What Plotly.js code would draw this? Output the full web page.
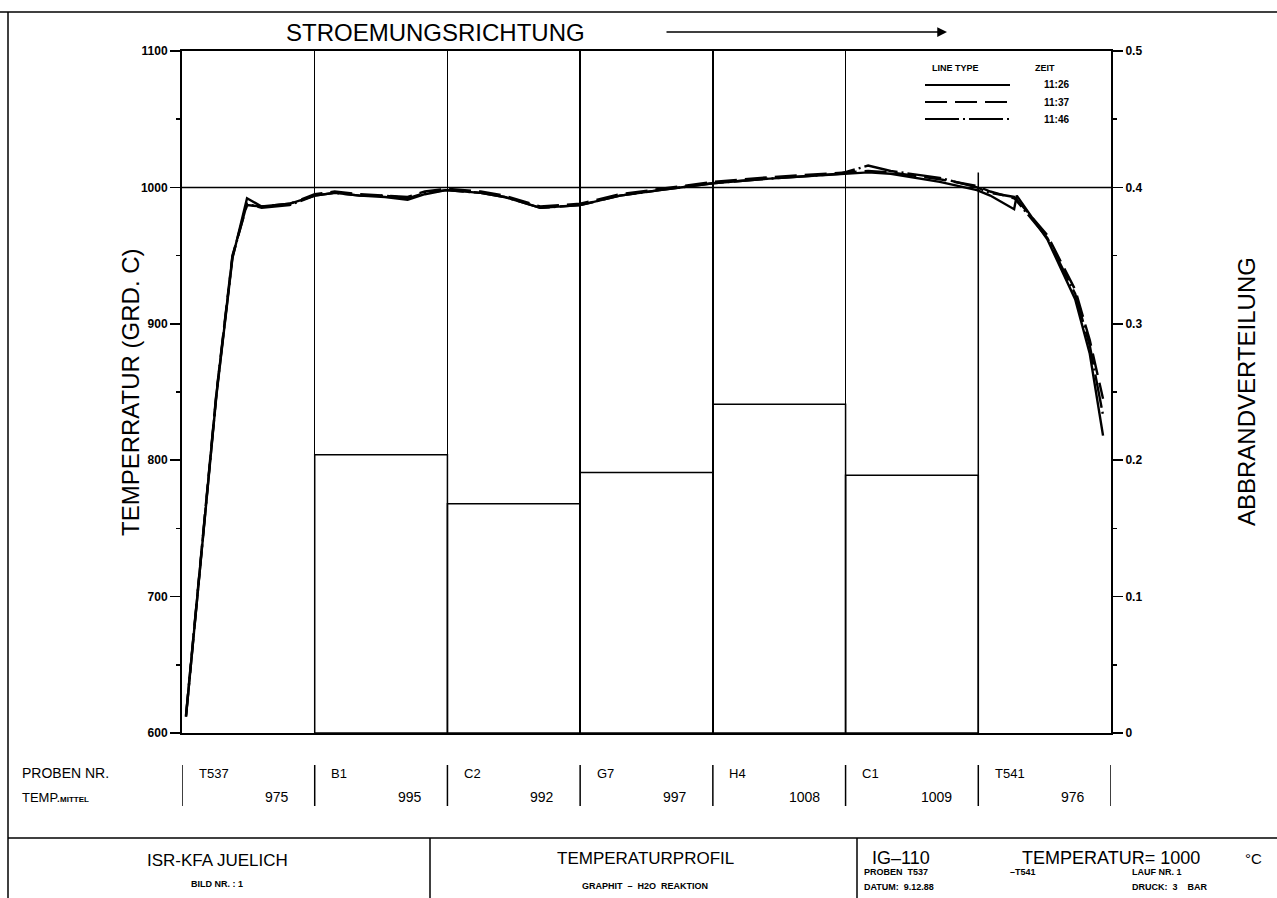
<!DOCTYPE html>
<html><head><meta charset="utf-8">
<script src="https://cdn.plot.ly/plotly-3.0.1.min.js"></script>
<style>body{margin:0;background:#fff}#chart{width:1277px;height:898px}</style>
</head><body><div id="chart"></div>
<script>
// ---- data ----
const positions = [0.03,0.26,0.38,0.49,0.60,0.81,1.0,1.15,1.34,1.53,1.70,1.83,1.99,2.25,2.43,2.70,3.0,3.3,3.6,4.0,4.36,4.66,4.96,5.17,5.34,5.71,5.99,6.09,6.27,6.29,6.52,6.73,6.84,6.94];
const temp1126 = [612,848,948,992,986,988,994,996,994,993,991,995,998,996,993,985,987,994,998,1003,1006,1008,1010,1011,1010,1004,998,994,984,994,962,918,878,818];
const temp1137 = [613,850,950,987,986,988,995,997,995,994,993,997,999,997,994,986,988,995,999,1004,1007,1009,1011,1012,1011,1006,1001,997,992,991,965,925,888,845];
const temp1146 = [612,849,949,988,985,987,994,996,994,994,992,996,998,996,993,985,987,994,998,1003,1006,1008,1010,1016,1012,1007,1000,996,993,990,963,922,884,833];
const barCenters = [1.5,2.5,3.5,4.5,5.5];
const abbrand = [0.204,0.168,0.191,0.241,0.189];
const samples = ['T537','B1','C2','G7','H4','C1','T541'];
const meanTemps = [975,995,992,997,1008,1009,976];
const leftTicks = [600,700,800,900,1000,1100];
const rightTicks = [0,0.1,0.2,0.3,0.4,0.5];
const times = ['11:26','11:37','11:46'];
const dashes = ['solid','22px,8px','34px,4px,2px,4px'];

// ---- helpers (pixel -> paper) ----
const PX = p => (p-182)/929;
const PY = p => (733-p)/682;
const FONT = 'Liberation Sans, Arial, sans-serif';

const traces = [
  {type:'bar', x:barCenters, y:abbrand, width:1, yaxis:'y2', marker:{color:'rgba(0,0,0,0)', line:{color:'#000', width:1.5}}, showlegend:false, hoverinfo:'skip'},
  {type:'scatter', mode:'lines', x:positions, y:temp1126, name:times[0], line:{color:'#000', width:2.4, dash:dashes[0]}, showlegend:false},
  {type:'scatter', mode:'lines', x:positions, y:temp1137, name:times[1], line:{color:'#000', width:2.4, dash:dashes[1]}, showlegend:false},
  {type:'scatter', mode:'lines', x:positions, y:temp1146, name:times[2], line:{color:'#000', width:2.4, dash:dashes[2]}, showlegend:false}
];

const shapes = [
  {type:'line', xref:'paper', yref:'paper', x0:PX(0), x1:PX(1277), y0:PY(12), y1:PY(12), line:{color:'#000', width:1.5}},
  {type:'line', xref:'paper', yref:'paper', x0:PX(8), x1:PX(8), y0:PY(12), y1:PY(898), line:{color:'#000', width:1.5}},
  {type:'line', xref:'paper', yref:'paper', x0:PX(8), x1:PX(1277), y0:PY(838), y1:PY(838), line:{color:'#000', width:1.5}},
  {type:'line', xref:'paper', yref:'paper', x0:PX(430), x1:PX(430), y0:PY(838), y1:PY(898), line:{color:'#000', width:1.5}},
  {type:'line', xref:'paper', yref:'paper', x0:PX(857), x1:PX(857), y0:PY(838), y1:PY(898), line:{color:'#000', width:1.5}},
  {type:'line', xref:'paper', yref:'y', x0:0, x1:1, y0:1000, y1:1000, line:{color:'#000', width:1.5}},
  {type:'line', xref:'x', yref:'y', x0:6, x1:6, y0:1011, y1:600, line:{color:'#000', width:1.5}}
];
for (let i=0;i<=7;i++){
  shapes.push({type:'line', xref:'x', yref:'paper', x0:i, x1:i, y0:PY(765), y1:PY(806), line:{color:'#000', width:1.5}});
}
const legY = [85,102,119];
for (let i=0;i<3;i++){
  shapes.push({type:'line', xref:'paper', yref:'paper', x0:PX(925), x1:PX(1010), y0:PY(legY[i]), y1:PY(legY[i]), line:{color:'#000', width:2, dash:dashes[i]}});
}

const ann = (px,py,text,size,opts={}) => Object.assign({xref:'paper', yref:'paper', x:PX(px), y:PY(py), text:text, showarrow:false, font:{family:FONT, size:size, color:'#000'}, xanchor:'left', yanchor:'middle'}, opts);
const bold = (px,py,text,size,opts={}) => { const a = ann(px,py,text,size,opts); a.font.weight = 'bold'; return a; };

const annotations = [
  ann(435,32,'STROEMUNGSRICHTUNG',24,{xanchor:'center'}),
  {xref:'paper', yref:'paper', x:PX(947), y:PY(32), ax:PX(665), ay:PY(32), axref:'paper', ayref:'paper', showarrow:true, arrowhead:2, arrowsize:1.3, arrowwidth:1.5, arrowcolor:'#000', text:''},
  ann(130,392,'TEMPERRATUR (GRD. C)',24,{xanchor:'center', textangle:-90}),
  ann(1246,392,'ABBRANDVERTEILUNG',24,{xanchor:'center', textangle:-90}),
  bold(930,68,'LINE TYPE',9),
  bold(1033,68,'ZEIT',9),
  ann(20,773,'PROBEN NR.',14),
  {xref:'paper', yref:'paper', x:PX(20), y:PY(797), text:'TEMP.<span style="font-size:8px;font-weight:bold">MITTEL</span>', showarrow:false, font:{family:FONT, size:13, color:'#000'}, xanchor:'left', yanchor:'middle'},
  ann(217,860,'ISR-KFA JUELICH',17,{xanchor:'center'}),
  bold(217,884,'BILD NR. : 1',9,{xanchor:'center'}),
  ann(645,858,'TEMPERATURPROFIL',17,{xanchor:'center'}),
  bold(645,886,'GRAPHIT  –  H2O  REAKTION',9,{xanchor:'center'}),
  ann(870,858,'IG–110',18),
  ann(1020,858,'TEMPERATUR= 1000',18),
  ann(1243,858,'°C',15),
  bold(862,872,'PROBEN  T537',9),
  bold(1008,872,'–T541',9),
  bold(1130,872,'LAUF NR. 1',9),
  bold(862,887,'DATUM:  9.12.88',9),
  bold(1130,887,'DRUCK:  3    BAR',9)
];
for (let i=0;i<3;i++){
  annotations.push(bold(1071,legY[i],times[i],10,{xanchor:'right'}));
}
for (let i=0;i<samples.length;i++){
  annotations.push({xref:'x', yref:'paper', x:i+0.11, y:PY(773), text:samples[i], showarrow:false, font:{family:FONT, size:13, color:'#000'}, xanchor:'left', yanchor:'middle'});
  annotations.push({xref:'x', yref:'paper', x:i+0.82, y:PY(797), text:String(meanTemps[i]), showarrow:false, font:{family:FONT, size:14, color:'#000'}, xanchor:'right', yanchor:'middle'});
}

const layout = {
  width:1277, height:898,
  margin:{l:182, r:166, t:51, b:165},
  paper_bgcolor:'#fff', plot_bgcolor:'#fff',
  showlegend:false,
  barmode:'overlay',
  xaxis:{range:[0,7], tickvals:[1,2,3,4,5], showticklabels:false, ticks:'', showgrid:true, gridcolor:'#000', gridwidth:1.5, zeroline:false, showline:true, linecolor:'#000', linewidth:2, mirror:true},
  yaxis:{range:[600,1100], tickvals:leftTicks, ticks:'outside', ticklen:10, tickwidth:1.5, tickcolor:'#000', showgrid:false, zeroline:false, showline:true, linecolor:'#000', linewidth:2,
         tickfont:{family:FONT, size:12, color:'#000', weight:'bold'},
         minor:{dtick:50, ticks:'outside', ticklen:4, tickcolor:'#000', showgrid:false}},
  yaxis2:{range:[0,0.5], overlaying:'y', side:'right', tickvals:rightTicks, ticktext:rightTicks.map(v=>v===0?'0':v.toFixed(1)), ticks:'outside', ticklen:10, tickwidth:1.5, tickcolor:'#000', showgrid:false, zeroline:false, showline:true, linecolor:'#000', linewidth:2,
          tickfont:{family:FONT, size:12, color:'#000', weight:'bold'},
          minor:{dtick:0.05, ticks:'outside', ticklen:4, tickcolor:'#000', showgrid:false}},
  shapes:shapes,
  annotations:annotations
};
Plotly.newPlot('chart', traces, layout, {staticPlot:true, displayModeBar:false});
</script>
</body></html>
